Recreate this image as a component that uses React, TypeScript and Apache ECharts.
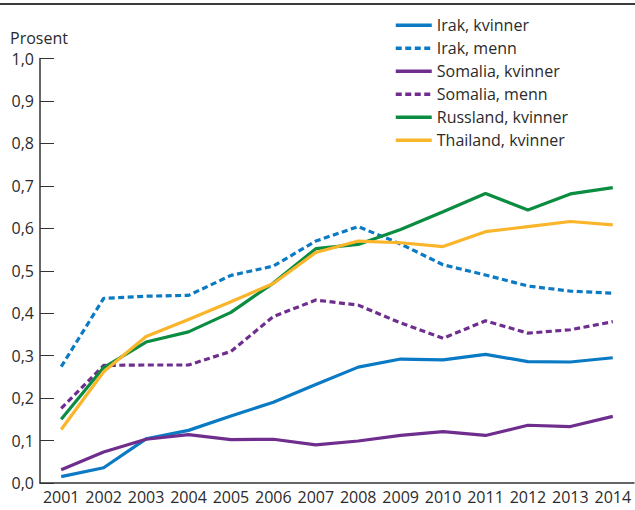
import React, { useEffect, useRef } from "react";
import * as echarts from "echarts";

const years = ["2001","2002","2003","2004","2005","2006","2007","2008","2009","2010","2011","2012","2013","2014"];
const irakKvinner = [0.015,0.036,0.104,0.124,0.158,0.19,0.232,0.273,0.292,0.29,0.303,0.286,0.285,0.295];
const irakMenn = [0.274,0.435,0.44,0.442,0.489,0.511,0.57,0.604,0.563,0.514,0.49,0.464,0.452,0.447];
const somaliaKvinner = [0.031,0.073,0.103,0.114,0.102,0.103,0.09,0.099,0.112,0.121,0.112,0.136,0.133,0.157];
const somaliaMenn = [0.176,0.277,0.278,0.278,0.31,0.392,0.431,0.419,0.377,0.341,0.382,0.353,0.361,0.38];
const russland = [0.15,0.272,0.332,0.356,0.402,0.471,0.552,0.562,0.597,0.639,0.682,0.643,0.681,0.696];
const thailand = [0.126,0.262,0.345,0.385,0.427,0.47,0.543,0.57,0.566,0.557,0.592,0.604,0.616,0.608];
const yTicks = [0, 0.1, 0.2, 0.3, 0.4, 0.5, 0.6, 0.7, 0.8, 0.9, 1.0];

const BLUE = "#0a7ac4";
const PURPLE = "#6f2e8e";
const GREEN = "#0b8d41";
const ORANGE = "#fbb52b";
const FONT = "'Open Sans', 'Noto Sans', sans-serif";
const TEXT = "#2b2b2b";

export default function App() {
  const ref = useRef<HTMLDivElement>(null);
  useEffect(() => {
    const chart = echarts.init(ref.current!, null, { renderer: "svg" });
    const mk = (name: string, data: number[], color: string, dashed: boolean) => ({
      name,
      type: "line",
      data,
      symbol: "none",
      showSymbol: false,
      lineStyle: { color, width: 3.2, type: dashed ? [6, 3.5] : "solid", cap: "butt" },
      itemStyle: { color },
    });
    chart.setOption({
      animation: false,
      textStyle: { fontFamily: FONT },
      grid: { left: 40, right: 1, top: 58.5, bottom: 27, containLabel: false },
      legend: {
        orient: "vertical",
        left: 394,
        top: 17.2,
        padding: 0,
        itemWidth: 36,
        itemHeight: 14,
        itemGap: 7,
        itemStyle: { opacity: 0 },
        lineStyle: { width: 3.5 },
        textStyle: { fontSize: 16, color: TEXT, fontFamily: FONT, lineHeight: 14 },
        data: ["Irak, kvinner","Irak, menn","Somalia, kvinner","Somalia, menn","Russland, kvinner","Thailand, kvinner"],
      },
      xAxis: {
        type: "category",
        data: years,
        boundaryGap: true,
        axisLine: { lineStyle: { color: "#333", width: 1.5 } },
        axisTick: { inside: true, alignWithLabel: true, length: 10, lineStyle: { color: "#333", width: 1 } },
        axisLabel: { fontSize: 16, color: TEXT, margin: 6, fontFamily: FONT, interval: 0 },
      },
      yAxis: {
        type: "value",
        min: yTicks[0],
        max: yTicks[yTicks.length - 1],
        interval: 0.1,
        splitLine: { show: false },
        axisLine: { show: true, lineStyle: { color: "#333", width: 1.5 } },
        axisTick: { show: true, inside: true, length: 14, lineStyle: { color: "#333", width: 1 } },
        axisLabel: {
          fontSize: 16,
          lineHeight: 16,
          color: TEXT,
          margin: 6,
          fontFamily: FONT,
          formatter: (v: number) => v.toFixed(1).replace(".", ","),
        },
      },
      graphic: [
        { type: "rect", shape: { x: 0, y: 3, width: 635, height: 2 }, style: { fill: "#3a3a3a" } },
        {
          type: "text",
          x: 10,
          y: 38,
          style: { text: "Prosent", font: `16px ${FONT}`, fill: TEXT, verticalAlign: "middle", lineHeight: 16 },
        },
      ],
      series: [
        mk("Irak, kvinner", irakKvinner, BLUE, false),
        mk("Irak, menn", irakMenn, BLUE, true),
        mk("Somalia, kvinner", somaliaKvinner, PURPLE, false),
        mk("Somalia, menn", somaliaMenn, PURPLE, true),
        mk("Russland, kvinner", russland, GREEN, false),
        mk("Thailand, kvinner", thailand, ORANGE, false),
      ],
    });
    return () => chart.dispose();
  }, []);
  return <div ref={ref} style={{ width: 635, height: 510, position: "absolute", left: 0, top: 0 }} />;
}
